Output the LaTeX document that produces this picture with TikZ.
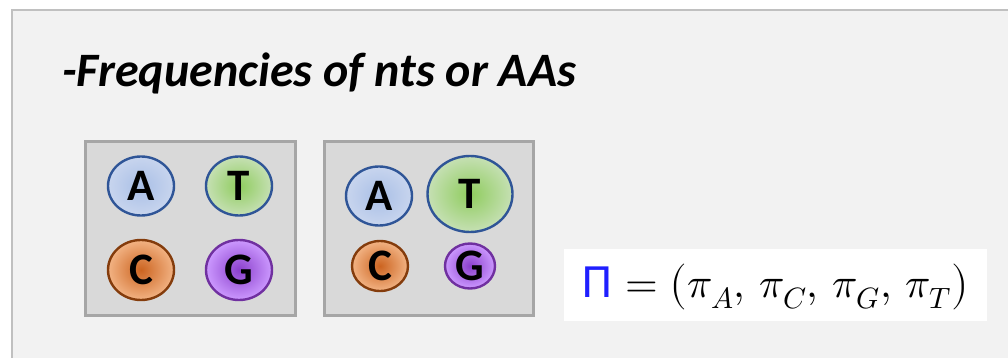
\documentclass[tikz,border=0pt]{standalone}
\usepackage{fontspec}
\usepackage{unicode-math}
\setmainfont{Carlito}
\setmathfont{Latin Modern Math}
\newfontfamily\glyphsans{DejaVu Sans}
\usetikzlibrary{shapes.geometric}
\definecolor{panelgray}{HTML}{F2F2F2}
\definecolor{panelline}{HTML}{C0C0C0}
\definecolor{boxgray}{HTML}{D9D9D9}
\definecolor{boxline}{HTML}{A6A6A6}
\definecolor{aIn}{HTML}{A9BFE6}\definecolor{aOut}{HTML}{C8D5EE}\definecolor{aLine}{HTML}{2F5597}
\definecolor{tIn}{HTML}{8FCC5E}\definecolor{tOut}{HTML}{C6E0B4}\definecolor{tLine}{HTML}{2F5597}
\definecolor{cIn}{HTML}{CC6420}\definecolor{cOut}{HTML}{F2B384}\definecolor{cLine}{HTML}{843C0C}
\definecolor{gIn}{HTML}{8A3FCB}\definecolor{gOut}{HTML}{CC99FF}\definecolor{gLine}{HTML}{7030A0}
\definecolor{piblue}{HTML}{1F1FFF}
\begin{document}
\begin{tikzpicture}[x=1pt,y=-1pt,
  panel/.style={fill=panelgray, draw=panelline, line width=2pt},
  freqbox/.style={fill=boxgray, draw=boxline, line width=2.6pt},
  base/.style={ellipse, inner sep=0pt, line width=2.4pt, shading=radial,
    font=\fontsize{45}{45}\selectfont\bfseries, text=black},
  ntA/.style={base, inner color=aIn, outer color=aOut, draw=aLine},
  ntT/.style={base, inner color=tIn, outer color=tOut, draw=tLine},
  ntC/.style={base, inner color=cIn, outer color=cOut, draw=cLine},
  ntG/.style={base, inner color=gIn, outer color=gOut, draw=gLine},
  sz/.style 2 args={minimum width=#1, minimum height=#2}
]
\useasboundingbox (0,0) rectangle (1008,358);
% background panel running off the right and bottom edges
\draw[panel] (12,10) rectangle (1020,370);

% heading
\node[anchor=base west, inner sep=0pt,
  font=\fontsize{48}{48}\selectfont\bfseries\itshape] (title) at (62,87)
  {-Frequencies of nts or AAs};

% equal frequencies
\node[freqbox, anchor=north west, minimum width=210, minimum height=174] (box1) at (84,140) {};
\node[ntA, sz={66}{59}] (a1) at (141,186) {A};
\node[ntT, sz={66}{59}] (t1) at (239,186) {T};
\node[ntC, sz={66}{60}] (c1) at (141,270) {C};
\node[ntG, sz={66}{60}] (g1) at (239,270) {G};

% unequal frequencies
\node[freqbox, anchor=north west, minimum width=209, minimum height=174] (box2) at (323,140) {};
\node[ntA, sz={66}{59}] (a2) at (379,196) {A};
\node[ntT, sz={85}{76}] (t2) at (470,194) {T};
\node[ntC, sz={56}{50}] (c2) at (380,266) {C};
\node[ntG, sz={50}{45}] (g2) at (470,266) {G};

% stationary frequency vector
\node[fill=white, anchor=north west, minimum width=423, minimum height=72] (eqbox) at (564,249) {};
\node[inner sep=0pt, font=\fontsize{42}{42}\selectfont] (eq) at ([yshift=-2]eqbox.center)
  {\textcolor{piblue}{\glyphsans\fontsize{42}{42}\selectfont Π}$\;=\bigl(\pi_A,\,\pi_C,\,\pi_G,\,\pi_T\bigr)$};
\end{tikzpicture}
\end{document}
